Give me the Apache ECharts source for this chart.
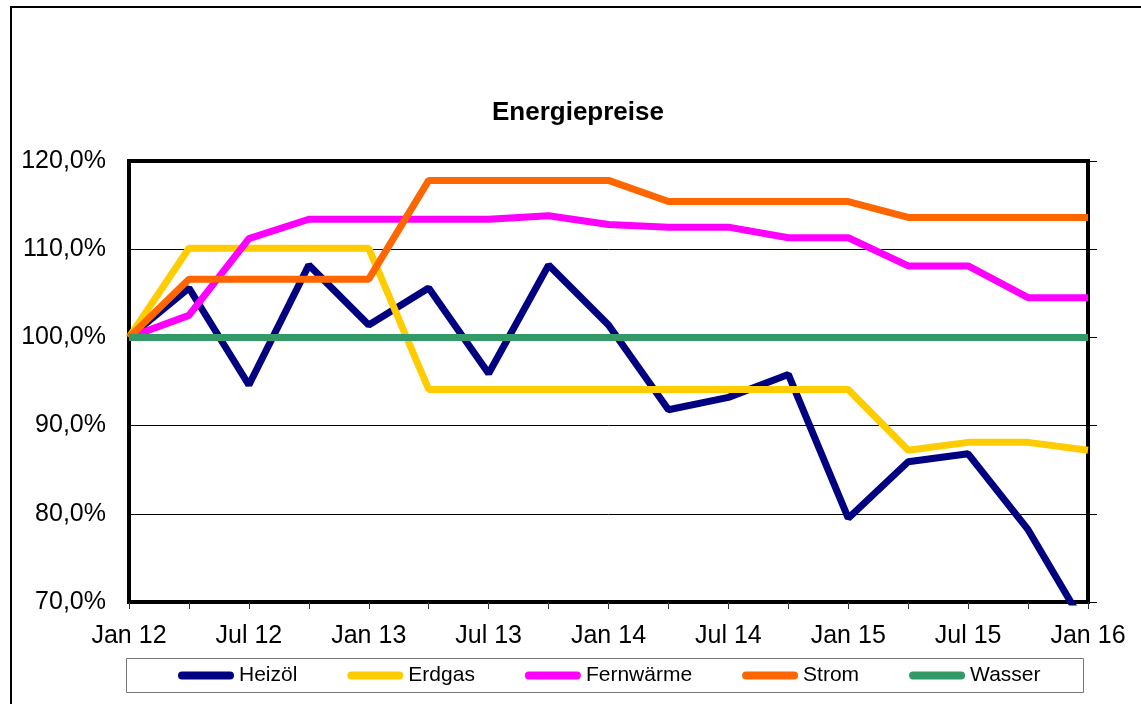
<!DOCTYPE html>
<html>
<head>
<meta charset="utf-8">
<script src="https://cdn.jsdelivr.net/npm/echarts@6/dist/echarts.min.js"></script>
<style>
  html, body { margin: 0; padding: 0; background: #fff; }
  #chart { width: 1141px; height: 704px; }
</style>
</head>
<body>
<div id="chart"></div>
<script>
// Quartale Jan 12 .. Jan 16
var categories = ['Jan 12', 'Apr 12', 'Jul 12', 'Okt 12', 'Jan 13', 'Apr 13', 'Jul 13', 'Okt 13',
  'Jan 14', 'Apr 14', 'Jul 14', 'Okt 14', 'Jan 15', 'Apr 15', 'Jul 15', 'Okt 15', 'Jan 16'];

// Werte in Prozent (Jan 12 = 100)
var heizoel    = [100, 105.6, 94.6, 108.2, 101.4, 105.6, 95.9, 108.2, 101.4, 91.8, 93.2, 95.8, 79.5, 85.9, 86.8, 78.2, 66.7];
var erdgas     = [100, 110.1, 110.1, 110.1, 110.1, 94.1, 94.1, 94.1, 94.1, 94.1, 94.1, 94.1, 94.1, 87.2, 88.1, 88.1, 87.2];
var fernwaerme = [100, 102.5, 111.2, 113.4, 113.4, 113.4, 113.4, 113.8, 112.8, 112.5, 112.5, 111.3, 111.3, 108.1, 108.1, 104.5, 104.5];
var strom      = [100, 106.6, 106.6, 106.6, 106.6, 117.8, 117.8, 117.8, 117.8, 115.4, 115.4, 115.4, 115.4, 113.6, 113.6, 113.6, 113.6];
var wasser     = [100, 100, 100, 100, 100, 100, 100, 100, 100, 100, 100, 100, 100, 100, 100, 100, 100];

var seriesNames = ['Heizöl', 'Erdgas', 'Fernwärme', 'Strom', 'Wasser'];
var seriesData = [heizoel, erdgas, fernwaerme, strom, wasser];
var colors = ['#000080', '#FFCC00', '#FF00FF', '#FF6600', '#339966'];

var font = '"Liberation Sans", Arial, sans-serif';

var chart = echarts.init(document.getElementById('chart'));
chart.setOption({
  animation: false,
  backgroundColor: '#fff',
  title: {
    text: 'Energiepreise',
    left: 492,
    top: 100,
    padding: 0,
    textStyle: { fontFamily: font, fontSize: 26, fontWeight: 'bold', color: '#000' }
  },
  legend: {
    data: seriesNames,
    left: 178,
    top: 665,
    padding: 0,
    itemWidth: 56,
    itemHeight: 8,
    itemGap: 50,
    icon: 'path://M4,0 L52,0 A4,4 0 0 1 52,8 L4,8 A4,4 0 0 1 4,0 Z',
    textStyle: { fontFamily: font, fontSize: 21, color: '#000' }
  },
  grid: {
    left: 129,
    right: 53,
    top: 161,
    bottom: 102,
    show: true,
    borderColor: '#000',
    borderWidth: 4
  },
  xAxis: {
    type: 'category',
    data: categories,
    boundaryGap: false,
    axisLine: { show: false },
    axisTick: { show: true, interval: 0, length: 7, lineStyle: { color: '#333', width: 1 } },
    axisLabel: {
      interval: 1,
      margin: 22,
      fontFamily: font,
      fontSize: 25,
      color: '#000'
    },
    splitLine: { show: false }
  },
  yAxis: [{
    type: 'value',
    min: 70,
    max: 120,
    interval: 10,
    axisLine: { show: false },
    axisTick: { show: false },
    axisLabel: {
      margin: 23,
      fontFamily: font,
      fontSize: 25,
      color: '#000',
      formatter: function (v) { return v.toFixed(1).replace('.', ',') + '%'; }
    },
    splitLine: { show: true, lineStyle: { color: '#000', width: 1 } }
  }, {
    type: 'value',
    position: 'right',
    min: 70,
    max: 120,
    interval: 10,
    axisLine: { show: false },
    axisTick: { show: true, length: 9, lineStyle: { color: '#000', width: 1 } },
    axisLabel: { show: false },
    splitLine: { show: false }
  }],
  graphic: [{
    type: 'rect',
    shape: { x: 11, y: 7, width: 1200, height: 800 },
    style: { fill: 'none', stroke: '#000', lineWidth: 2 },
    silent: true
  }, {
    type: 'rect',
    shape: { x: 126.5, y: 658.5, width: 957, height: 34 },
    style: { fill: 'none', stroke: '#777', lineWidth: 1 },
    silent: true
  }],
  series: seriesNames.map(function (name, i) {
    return {
      name: name,
      type: 'line',
      data: seriesData[i],
      showSymbol: false,
      symbol: 'none',
      color: colors[i],
      lineStyle: { width: 7, color: colors[i] },
      clip: true
    };
  })
});
</script>
</body>
</html>
